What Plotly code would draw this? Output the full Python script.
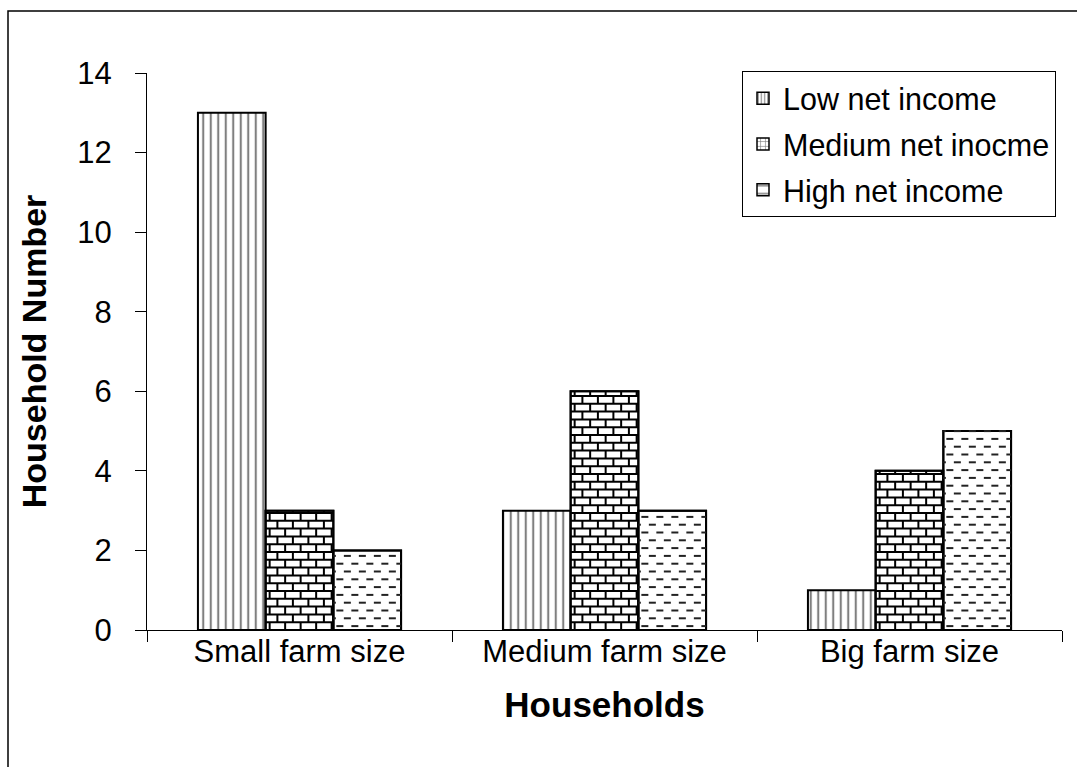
import plotly.graph_objects as go

# ---- data -------------------------------------------------------------
categories = ["Small farm size", "Medium farm size", "Big farm size"]
series_names = ["Low net income", "Medium net inocme", "High net income"]
low_income = [13, 3, 1]
medium_income = [3, 6, 4]
high_income = [2, 3, 5]
y_ticks = [0, 2, 4, 6, 8, 10, 12, 14]

# ---- geometry ---------------------------------------------------------
W, H = 1077, 767
M_L, M_R, M_T, M_B = 147, 15, 73, 137
PLOT_W = W - M_L - M_R
PLOT_H = H - M_T - M_B
X_RANGE = [-0.5, 2.5]
Y_RANGE = [0, 14]
PX_X = (X_RANGE[1] - X_RANGE[0]) / PLOT_W   # data units per pixel (x)
PX_Y = (Y_RANGE[1] - Y_RANGE[0]) / PLOT_H   # data units per pixel (y)

BAR_W = 0.222
OFFSETS = [-1.5 * BAR_W + i * BAR_W for i in range(3)]
xs = list(range(len(categories)))

FONT = "Liberation Sans, Arial, sans-serif"
ROW = 7.8 * PX_Y


def brick_texture(values, off):
    """Mortar lines of a brick fill for each bar of one series."""
    lx, ly = [], []
    brick = 15.5 * PX_X
    for xc, top in zip(xs, values):
        x0 = xc + off
        x1 = x0 + BAR_W
        y = ROW
        while y < top - 1e-9:
            lx += [x0, x1, None]
            ly += [y, y, None]
            y += ROW
        r = 0
        yb = 0.0
        while yb < top - 1e-9:
            yt = min(yb + ROW, top)
            shift = 4 * PX_X + (brick / 2 if r % 2 else 0.0)
            xv = x0 + shift
            while xv < x1 - 1e-9:
                if xv > x0 + 1e-9:
                    lx += [xv, xv, None]
                    ly += [yb, yt, None]
                xv += brick
            yb += ROW
            r += 1
    return lx, ly


def dash_texture(values, off):
    """Staggered short dashes for each bar of one series."""
    lx, ly = [], []
    period = 15.0 * PX_X
    dash = 7.0 * PX_X
    for xc, top in zip(xs, values):
        x0 = xc + off
        x1 = x0 + BAR_W
        r = 0
        y = ROW * 0.5
        while y < top - 1e-9:
            start = x0 + 3 * PX_X + (period / 2 if r % 2 else 0.0)
            xd = start - period
            while xd < x1:
                a = max(xd, x0)
                b = min(xd + dash, x1)
                if b > a:
                    lx += [a, b, None]
                    ly += [y, y, None]
                xd += period
            y += ROW
            r += 1
    return lx, ly


fig = go.Figure()

bar_line = dict(color="black", width=2)

fig.add_trace(go.Bar(
    x=xs, y=low_income, width=BAR_W, offset=OFFSETS[0], showlegend=False,
    marker=dict(color="white", line=bar_line,
                pattern=dict(shape="|", size=7.5, solidity=0.28,
                             fgcolor="black", bgcolor="white")),
    hoverinfo="skip"))
fig.add_trace(go.Bar(
    x=xs, y=medium_income, width=BAR_W, offset=OFFSETS[1], showlegend=False,
    marker=dict(color="white", line=bar_line), hoverinfo="skip"))
fig.add_trace(go.Bar(
    x=xs, y=high_income, width=BAR_W, offset=OFFSETS[2], showlegend=False,
    marker=dict(color="white", line=bar_line), hoverinfo="skip"))

bx, by = brick_texture(medium_income, OFFSETS[1])
fig.add_trace(go.Scatter(x=bx, y=by, mode="lines", showlegend=False,
                         line=dict(color="black", width=2), hoverinfo="skip"))
dx, dy = dash_texture(high_income, OFFSETS[2])
fig.add_trace(go.Scatter(x=dx, y=dy, mode="lines", showlegend=False,
                         line=dict(color="#222222", width=2), hoverinfo="skip"))

# redraw bar outlines on top of the textures
for vals, off in ((medium_income, OFFSETS[1]), (high_income, OFFSETS[2])):
    fig.add_trace(go.Bar(
        x=xs, y=vals, width=BAR_W, offset=off, showlegend=False,
        marker=dict(color="rgba(0,0,0,0)", line=bar_line), hoverinfo="skip"))

# legend entries
legend_patterns = [
    dict(shape="|", size=4, solidity=0.35, fgcolor="black", bgcolor="white"),
    dict(shape="+", size=6, solidity=0.25, fgcolor="black", bgcolor="white"),
    dict(shape="-", size=12, solidity=0.2, fgcolor="black", bgcolor="white"),
]
for i, (name, pat) in enumerate(zip(series_names, legend_patterns)):
    fig.add_trace(go.Bar(
        x=[None], y=[None], name=name, legendgroup=f"g{i}",
        marker=dict(color="white", line=dict(color="black", width=1.5),
                    pattern=pat)))

fig.update_layout(
    width=W, height=H,
    margin=dict(l=M_L, r=M_R, t=M_T, b=M_B),
    paper_bgcolor="white", plot_bgcolor="white",
    barmode="overlay",
    font=dict(family=FONT, size=31, color="black"),
    showlegend=True,
    legend=dict(
        x=(742 - M_L) / PLOT_W, y=(630 - 71) / PLOT_H,
        xanchor="left", yanchor="top",
        bgcolor="white", bordercolor="black", borderwidth=1,
        font=dict(family=FONT, size=30.5, color="black"),
        tracegroupgap=3,
        itemwidth=30,
    ),
    xaxis=dict(
        range=X_RANGE, tickvals=xs, ticktext=categories,
        ticks="", showline=True, linecolor="black", linewidth=1,
        showgrid=False, zeroline=False,
        ticklabelstandoff=-6,
        tickfont=dict(family=FONT, size=31, color="black"),
        minor=dict(ticks="outside", ticklen=11, tickcolor="black",
                   tickwidth=1, tick0=0.5, dtick=1, showgrid=False),
        title=dict(text="<b>Households</b>", standoff=24,
                   font=dict(family=FONT, size=35, color="black")),
    ),
    yaxis=dict(
        range=Y_RANGE, tickvals=y_ticks, ticks="outside", ticklen=11,
        tickcolor="black", tickwidth=1,
        showline=True, linecolor="black", linewidth=1,
        showgrid=False, zeroline=False,
        ticklabelstandoff=17,
        tickfont=dict(family=FONT, size=31, color="black"),
        title=dict(text="<b>Household Number</b>", standoff=20,
                   font=dict(family=FONT, size=34, color="black")),
    ),
    shapes=[dict(
        type="rect", xref="paper", yref="paper", layer="below",
        x0=(8 - M_L) / PLOT_W, x1=1.2,
        y0=-0.6, y1=(630 - 11) / PLOT_H,
        line=dict(color="black", width=1.5), fillcolor="rgba(0,0,0,0)",
    )],
)

fig.write_html("out.html")
